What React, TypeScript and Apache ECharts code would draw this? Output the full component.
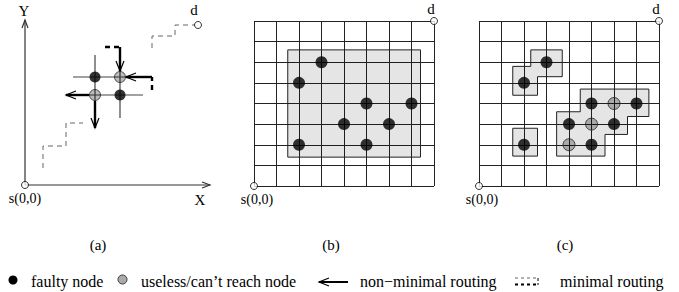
import React, { useEffect, useRef } from "react";
import * as echarts from "echarts";

// ---------- Panel (a): free plane, units ~ pixels from origin s(0,0) ----------
const A_FAULTY = [[70, 108], [95, 90]];
const A_USELESS = [[95, 108], [70, 90]];
const A_ENDS = [[0, 0], [173, 160]];
const A_AXES = [
  [[0, 0], [185, 0]],
  [[0, 0], [0, 165]],
];
const A_THIN = [
  [[48, 108], [101, 108]],
  [[64, 90], [118, 90]],
  [[70, 130], [70, 84]],
  [[95, 114], [95, 67]],
];
const A_NONMIN_ARROWS = [
  [[95, 138], [95, 114]],
  [[127, 108], [101, 108]],
  [[64, 90], [41, 90]],
  [[70, 84], [70, 57]],
];
const A_NONMIN_DASH = [
  [[80, 138], [95, 138]],
  [[127, 95], [127, 108]],
];
const A_MINIMAL = [
  [[18, 17], [18, 39], [41, 39], [41, 62], [58, 62]],
  [[127, 137], [127, 149], [150, 149], [150, 160], [170, 160]],
];

// ---------- Panel (b): 8x8 mesh ----------
const B_FAULTY = [[3, 6], [2, 5], [5, 4], [7, 4], [4, 3], [6, 3], [2, 2], [5, 2]];
const B_REGIONS = [
  [[1.5, 1.4], [7.4, 1.4], [7.4, 6.6], [1.5, 6.6]],
];

// ---------- Panel (c): 8x8 mesh ----------
const C_FAULTY = [[3, 6], [2, 5], [5, 4], [7, 4], [4, 3], [6, 3], [5, 2], [2, 2]];
const C_USELESS = [[6, 4], [5, 3], [4, 2]];
const C_REGIONS = [
  [[2.3, 6.6], [3.7, 6.6], [3.7, 5.3], [2.6, 5.3], [2.6, 4.4], [1.5, 4.4], [1.5, 5.8], [2.3, 5.8]],
  [[1.5, 1.45], [2.6, 1.45], [2.6, 2.8], [1.5, 2.8]],
  [[4.5, 4.7], [7.55, 4.7], [7.55, 3.37], [6.6, 3.37], [6.6, 2.5], [5.6, 2.5], [5.6, 1.45], [3.45, 1.45], [3.45, 3.6], [4.5, 3.6]],
];
const MESH_ENDS = [[0, 0], [8, 8]];
const MESH_SIZE = 8;

const CAPTIONS = ["(a)", "(b)", "(c)"];
const LEGEND_TEXTS = ["faulty node", "useless/can\u2019t reach node", "non\u2212minimal routing", "minimal routing"];

const FONT = "'Liberation Serif', 'Times New Roman', serif";

function arrowHead(tip: number[], prev: number[], len: number, half: number) {
  const dx = tip[0] - prev[0];
  const dy = tip[1] - prev[1];
  const d = Math.sqrt(dx * dx + dy * dy) || 1;
  const ux = dx / d, uy = dy / d;
  const px = -uy, py = ux;
  return [
    [tip[0] - ux * len + px * half, tip[1] - uy * len + py * half],
    tip,
    [tip[0] - ux * len - px * half, tip[1] - uy * len - py * half],
  ];
}

export default function App() {
  const ref = useRef<HTMLDivElement>(null);
  useEffect(() => {
    const chart = echarts.init(ref.current!, null, { renderer: "svg" });

    type Path = { p: number[][]; k: string };
    const aPaths: Path[] = [
      ...A_AXES.map((p) => ({ p, k: "axis" })),
      ...A_MINIMAL.map((p) => ({ p, k: "min" })),
      ...A_THIN.map((p) => ({ p, k: "thin" })),
      ...A_NONMIN_DASH.map((p) => ({ p, k: "dash" })),
      ...A_NONMIN_ARROWS.map((p) => ({ p, k: "arrow" })),
    ];

    const pathRender = (params: any, api: any) => {
      const item = aPaths[params.dataIndex];
      const pts = item.p.map((v) => api.coord(v));
      const children: any[] = [];
      let style: any = { stroke: "#000", lineWidth: 1, fill: "none" };
      if (item.k === "axis") style = { stroke: "#333", lineWidth: 1.2, fill: "none" };
      if (item.k === "min") style = { stroke: "#666", lineWidth: 1, lineDash: [5, 4], fill: "none" };
      if (item.k === "thin") style = { stroke: "#444", lineWidth: 1.2, fill: "none" };
      if (item.k === "dash") style = { stroke: "#000", lineWidth: 2.4, lineDash: [5, 4], fill: "none" };
      if (item.k === "arrow") style = { stroke: "#000", lineWidth: 2.4, fill: "none" };
      children.push({ type: "polyline", shape: { points: pts }, style });
      if (item.k === "axis" || item.k === "arrow") {
        const n = pts.length;
        const head = arrowHead(pts[n - 1], pts[n - 2], item.k === "axis" ? 8 : 10, item.k === "axis" ? 3 : 4);
        children.push({
          type: "polyline",
          shape: { points: head },
          style: { stroke: item.k === "axis" ? "#333" : "#000", lineWidth: 1.2, fill: "none" },
        });
      }
      return { type: "group", children };
    };

    const regionRender = (regions: number[][][]) => (params: any, api: any) => {
      const pts = regions[params.dataIndex].map((v) => api.coord(v));
      return {
        type: "polygon",
        shape: { points: pts },
        style: { fill: "rgba(0,0,0,0.1)", stroke: "#222", lineWidth: 1 },
      };
    };

    const meshAxis = (gridIndex: number) => ({
      gridIndex,
      type: "value",
      min: 0,
      max: MESH_SIZE,
      interval: 1,
      axisLine: { show: false },
      axisTick: { show: false },
      axisLabel: { show: false },
      splitLine: { show: true, showMinLine: true, showMaxLine: true, lineStyle: { color: "#222", width: 1 } },
    });

    const faulty = (data: number[][], idx: number, size: number) => ({
      type: "scatter",
      xAxisIndex: idx,
      yAxisIndex: idx,
      data,
      symbol: "circle",
      symbolSize: size,
      itemStyle: { color: "#000" },
      z: 4,
    });
    const useless = (data: number[][], idx: number, size: number) => ({
      type: "scatter",
      xAxisIndex: idx,
      yAxisIndex: idx,
      data,
      symbol: "circle",
      symbolSize: size,
      itemStyle: { color: "rgba(0,0,0,0.33)", borderColor: "#222", borderWidth: 1 },
      z: 4,
    });
    const ends = (data: number[][], idx: number) => ({
      type: "scatter",
      xAxisIndex: idx,
      yAxisIndex: idx,
      data,
      symbol: "circle",
      symbolSize: 7,
      itemStyle: { color: "#fff", borderColor: "#000", borderWidth: 1 },
      z: 5,
    });

    const txt = (text: string, x: number, y: number, align = "center", size = 14) => ({
      type: "text",
      x,
      y,
      style: {
        text,
        fill: "#000",
        fontFamily: FONT,
        fontSize: size,
        align,
        verticalAlign: "middle",
      },
    });

    const option: any = {
      animation: false,
      backgroundColor: "#fff",
      grid: [
        { left: 25, top: 20, width: 185, height: 165 },
        { left: 254, top: 21, width: 180, height: 165 },
        { left: 479, top: 21, width: 180, height: 165 },
      ],
      xAxis: [
        { gridIndex: 0, type: "value", min: 0, max: 185, show: false },
        meshAxis(1),
        meshAxis(2),
      ],
      yAxis: [
        { gridIndex: 0, type: "value", min: 0, max: 165, show: false },
        meshAxis(1),
        meshAxis(2),
      ],
      series: [
        {
          type: "custom",
          xAxisIndex: 0,
          yAxisIndex: 0,
          data: aPaths.map((_, i) => [i, 0]),
          renderItem: pathRender,
          z: 2,
        },
        faulty(A_FAULTY, 0, 11),
        useless(A_USELESS, 0, 11),
        ends(A_ENDS, 0),
        {
          type: "custom",
          xAxisIndex: 1,
          yAxisIndex: 1,
          data: B_REGIONS.map((_, i) => [i, 0]),
          renderItem: regionRender(B_REGIONS),
          z: 2,
        },
        faulty(B_FAULTY, 1, 12),
        ends(MESH_ENDS, 1),
        {
          type: "custom",
          xAxisIndex: 2,
          yAxisIndex: 2,
          data: C_REGIONS.map((_, i) => [i, 0]),
          renderItem: regionRender(C_REGIONS),
          z: 2,
        },
        faulty(C_FAULTY, 2, 12),
        useless(C_USELESS, 2, 12),
        ends(MESH_ENDS, 2),
      ],
      graphic: [
        txt("Y", 24, 11, "center", 15),
        txt("X", 200, 200, "center", 15),
        txt("s(0,0)", 25, 198),
        txt("d", 194, 10, "center", 15),
        txt("d", 431, 9, "center", 15),
        txt("s(0,0)", 257, 199),
        txt("d", 656, 9, "center", 15),
        txt("s(0,0)", 482, 199),
        txt(CAPTIONS[0], 98, 245, "center", 15),
        txt(CAPTIONS[1], 331, 245, "center", 15),
        txt(CAPTIONS[2], 565, 245, "center", 15),
        { type: "circle", shape: { cx: 13, cy: 280, r: 4.5 }, style: { fill: "#000" } },
        txt(LEGEND_TEXTS[0], 31, 281.5, "left", 16),
        { type: "circle", shape: { cx: 122.5, cy: 279.5, r: 4.5 }, style: { fill: "#aaa", stroke: "#333", lineWidth: 1 } },
        txt(LEGEND_TEXTS[1], 141, 281.5, "left", 16),
        { type: "line", shape: { x1: 319, y1: 282, x2: 348, y2: 282 }, style: { stroke: "#000", lineWidth: 2 } },
        { type: "polyline", shape: { points: [[329, 278], [319, 282], [329, 286]] }, style: { stroke: "#000", lineWidth: 1.2, fill: "none" } },
        txt(LEGEND_TEXTS[2], 360, 281.5, "left", 16),
        { type: "line", shape: { x1: 515, y1: 278, x2: 536, y2: 278 }, style: { stroke: "#666", lineWidth: 1, lineDash: [3, 3] } },
        { type: "line", shape: { x1: 515, y1: 284.5, x2: 536, y2: 284.5 }, style: { stroke: "#000", lineWidth: 2, lineDash: [3, 3] } },
        { type: "line", shape: { x1: 538, y1: 278, x2: 538, y2: 285 }, style: { stroke: "#000", lineWidth: 1, lineDash: [3, 2] } },
        txt(LEGEND_TEXTS[3], 560, 281.5, "left", 16),
      ],
    };

    chart.setOption(option);
    return () => chart.dispose();
  }, []);

  return (
    <div
      ref={ref}
      style={{ position: "absolute", left: 0, top: 0, width: 679, height: 292 }}
    />
  );
}
